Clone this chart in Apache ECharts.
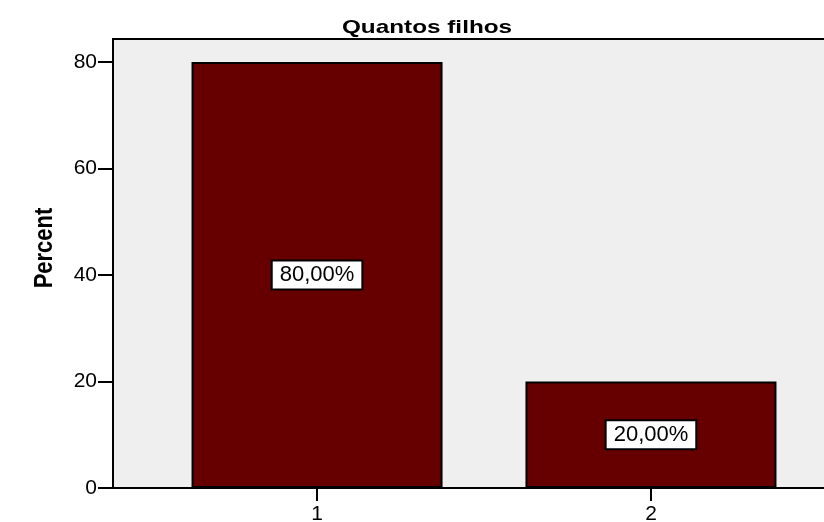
<!DOCTYPE html>
<html>
<head>
<meta charset="utf-8">
<script src="https://cdn.jsdelivr.net/npm/echarts@6/dist/echarts.min.js"></script>
<style>html,body{margin:0;padding:0;background:#fff}#c{width:824px;height:522px}</style>
</head>
<body>
<div id="c"></div>
<script>
const chartTitle = 'Quantos filhos';
const yAxisTitle = 'Percent';
const categories = ['1', '2'];
const percents = [80, 20];
const yTicks = [0, 20, 40, 60, 80];

const FONT = '"Liberation Sans", Arial, sans-serif';
const chart = echarts.init(document.getElementById('c'));
const catValues = categories.map(Number);
const labelText = v => v.toFixed(2).replace('.', ',') + '%';

chart.setOption({
  animation: false,
  backgroundColor: '#ffffff',
  graphic: [
    {
      type: 'text', x: 427, y: 28, scaleX: 1.28,
      style: { text: chartTitle, font: 'bold 19px ' + FONT, fill: '#000', textAlign: 'center', textVerticalAlign: 'middle' }
    },
    {
      type: 'text', x: 45, y: 248, rotation: Math.PI / 2, scaleY: 1.2,
      style: { text: yAxisTitle, font: 'bold 22px ' + FONT, fill: '#000', textAlign: 'center', textVerticalAlign: 'middle' }
    }
  ],
  grid: {
    left: 113, right: -31, top: 39, bottom: 34,
    outerBoundsMode: 'none',
    containLabel: false,
    show: true, backgroundColor: '#efefef', borderColor: '#000', borderWidth: 2
  },
  xAxis: {
    type: 'value', min: 0.389, max: 2.611,
    splitLine: { show: false },
    axisLine: { show: true, onZero: false, lineStyle: { color: '#000', width: 2 } },
    axisTick: { show: true, length: 13, customValues: catValues, lineStyle: { color: '#000', width: 2 } },
    axisLabel: {
      customValues: catValues, margin: 16, fontSize: 21, fontFamily: FONT, color: '#000',
      formatter: v => categories[catValues.indexOf(v)] ?? ''
    }
  },
  yAxis: {
    type: 'value', min: 0, max: 84.3,
    splitLine: { show: false },
    axisLine: { show: true, onZero: false, lineStyle: { color: '#000', width: 2 } },
    axisTick: { show: true, length: 15, customValues: yTicks, lineStyle: { color: '#000', width: 2 } },
    axisLabel: { customValues: yTicks, margin: 16, fontSize: 21, fontFamily: FONT, color: '#000' }
  },
  series: [{
    type: 'bar',
    barWidth: 251,
    data: catValues.map((c, i) => [c, percents[i]]),
    itemStyle: { color: '#660000', borderColor: '#000', borderWidth: 2 },
    label: {
      show: true, position: 'inside',
      formatter: p => labelText(p.value[1]),
      fontSize: 22, fontFamily: FONT, color: '#000',
      backgroundColor: '#fff', borderColor: '#000', borderWidth: 2,
      padding: [3, 7, 2, 7]
    }
  }]
});
</script>
</body>
</html>
